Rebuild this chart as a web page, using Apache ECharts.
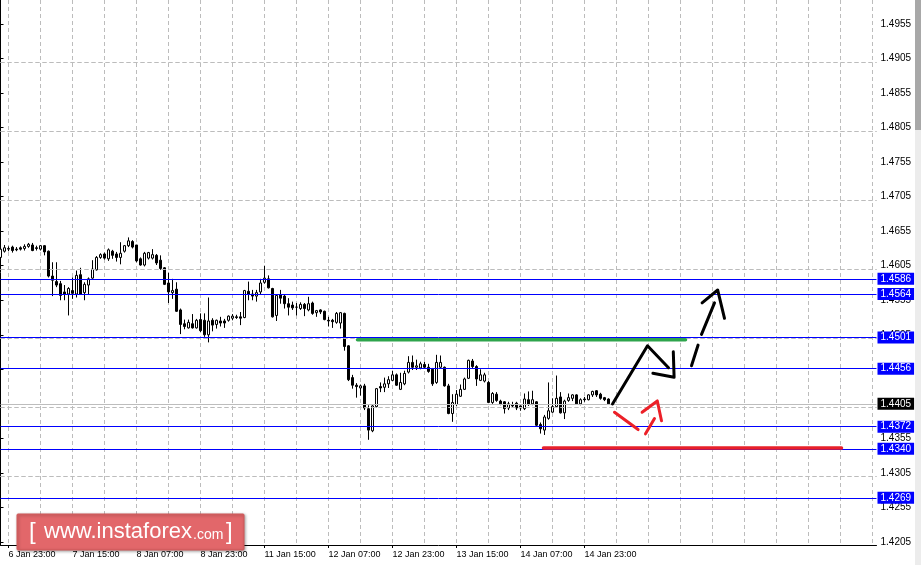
<!DOCTYPE html>
<html><head><meta charset="utf-8">
<script src="https://cdn.jsdelivr.net/npm/echarts@6/dist/echarts.min.js"></script>
<style>html,body{margin:0;padding:0;background:#fff}#c{width:921px;height:565px}</style>
</head><body><div id="c"></div>
<script>
// ---- data (prices in points: 14617 = 1.4617) ----
const timeLabels = ['6 Jan 23:00','7 Jan 15:00','8 Jan 07:00','8 Jan 23:00','11 Jan 15:00','12 Jan 07:00','12 Jan 23:00','13 Jan 15:00','14 Jan 07:00','14 Jan 23:00'];
const priceTicks = [1.4205,1.4255,1.4305,1.4355,1.4405,1.4455,1.4505,1.4555,1.4605,1.4655,1.4705,1.4755,1.4805,1.4855,1.4905,1.4955];
// [open, close, low, high]
const ohlc = [
[14617,14629,14615,14632],[14626,14631,14624,14635],[14629,14630,14626,14633],[14632,14627,14624,14634],
[14629,14628,14626,14632],[14631,14629,14627,14633],[14630,14633,14627,14636],[14633,14636,14631,14638],
[14635,14627,14626,14638],[14631,14630,14627,14634],[14629,14634,14627,14635],[14634,14625,14620,14635],
[14626,14590,14588,14627],[14590,14584,14561,14610],[14582,14577,14574,14610],[14579,14562,14555,14583],
[14567,14564,14555,14577],[14564,14572,14533,14574],[14569,14565,14557,14588],[14564,14591,14559,14598],
[14592,14564,14563,14602],[14566,14578,14555,14581],[14577,14586,14564,14588],[14587,14600,14586,14613],
[14599,14617,14598,14619],[14617,14621,14615,14623],[14622,14616,14614,14624],[14615,14628,14612,14630],
[14626,14620,14615,14628],[14622,14617,14611,14625],[14617,14623,14607,14639],[14626,14634,14624,14635],
[14634,14641,14632,14646],[14640,14632,14630,14642],[14635,14612,14610,14635],[14615,14606,14605,14617],
[14606,14623,14604,14625],[14616,14624,14614,14625],[14616,14621,14614,14629],[14620,14609,14606,14622],
[14613,14601,14599,14620],[14602,14578,14577,14603],[14580,14567,14551,14595],[14566,14569,14557,14586],
[14571,14539,14538,14581],[14541,14520,14506,14543],[14521,14517,14513,14527],[14515,14523,14514,14527],
[14521,14515,14514,14535],[14515,14526,14514,14528],[14527,14511,14509,14536],[14526,14505,14502,14536],
[14505,14525,14494,14559],[14526,14519,14510,14529],[14520,14526,14514,14527],[14525,14522,14517,14531],
[14525,14522,14515,14528],[14526,14532,14524,14533],[14529,14532,14526,14535],[14531,14530,14528,14534],
[14531,14529,14519,14538],[14530,14569,14529,14570],[14568,14564,14555,14582],[14564,14561,14555,14570],
[14561,14566,14553,14570],[14567,14580,14564,14586],[14581,14587,14579,14605],[14586,14573,14572,14591],
[14572,14531,14530,14573],[14533,14562,14525,14564],[14563,14558,14550,14570],[14561,14550,14543,14563],
[14550,14545,14533,14558],[14548,14544,14541,14553],[14545,14545,14533,14551],[14543,14549,14541,14552],
[14549,14543,14532,14551],[14541,14550,14539,14560],[14551,14536,14534,14553],[14537,14540,14531,14541],
[14541,14538,14535,14542],[14539,14527,14526,14540],[14526,14525,14517,14531],[14526,14524,14515,14528],
[14523,14536,14521,14538],[14522,14537,14514,14538],[14536,14488,14482,14537],[14489,14440,14438,14490],
[14443,14432,14427,14447],[14432,14430,14414,14435],[14428,14431,14417,14433],[14431,14399,14396,14434],
[14398,14367,14353,14403],[14366,14402,14364,14404],[14401,14427,14400,14428],[14430,14428,14422,14436],
[14429,14434,14422,14443],[14434,14440,14428,14445],[14439,14447,14438,14453],[14447,14432,14431,14449],
[14426,14436,14425,14450],[14434,14449,14432,14453],[14451,14465,14449,14474],[14465,14458,14454,14475],
[14458,14460,14454,14469],[14457,14463,14455,14466],[14462,14458,14456,14466],[14458,14452,14450,14463],
[14455,14434,14431,14457],[14436,14465,14434,14476],[14458,14465,14457,14475],[14458,14431,14430,14459],
[14431,14391,14390,14434],[14391,14407,14379,14419],[14404,14419,14402,14425],[14416,14426,14415,14433],
[14426,14441,14425,14443],[14442,14468,14441,14469],[14467,14459,14457,14470],[14459,14441,14431,14461],
[14439,14447,14438,14455],[14438,14447,14436,14450],[14436,14407,14406,14438],[14407,14420,14405,14422],
[14419,14410,14408,14422],[14409,14405,14403,14411],[14408,14398,14391,14409],[14399,14405,14396,14408],
[14403,14402,14399,14408],[14406,14399,14396,14408],[14402,14399,14395,14403],[14398,14412,14396,14420],
[14411,14404,14402,14423],[14405,14411,14403,14424],[14408,14374,14373,14409],[14375,14369,14362,14378],
[14367,14386,14360,14389],[14384,14395,14382,14436],[14393,14401,14392,14413],[14401,14413,14399,14446],
[14415,14392,14391,14422],[14392,14409,14383,14411],[14410,14414,14408,14420],[14413,14418,14409,14419],
[14418,14405,14404,14419],[14405,14411,14403,14413],[14412,14411,14408,14415],[14411,14418,14410,14419],
[14418,14423,14415,14424],[14424,14418,14415,14425],[14419,14413,14411,14421],[14414,14411,14409,14415],
[14412,14405,14404,14413]
];
const levels = [1.4586, 1.4564, 1.4501, 1.4456, 1.4372, 1.4340, 1.4269];
const lastPrice = 1.4405;
const slotCount = 220;            // bars incl. empty space on the right
const firstLabelBar = 2, labelStep = 16, gridStep = 8;
// annotations: [bar index, price]
const resistanceSeg = [[89.25, 1.44979], [171.25, 1.44979]];
const supportSeg = [[135.75, 1.43411], [210.25, 1.43411]];
const bullPath = [[153, 1.44048], [161.75, 1.44892], [167, 1.44574]];
const bullHead = [[168.2, 1.44804], [168.4, 1.44435], [163.1, 1.44493]];
const bullDash1 = [[172.75, 1.44602], [174.4, 1.44901]];
const bullDash2 = [[175.25, 1.45055], [178.5, 1.45513]];
const bullHead2 = [[175.4, 1.45513], [179.3, 1.45698], [181, 1.45289]];
const bearDash1 = [[153.5, 1.43929], [159.4, 1.43678]];
const bearDash2 = [[161.25, 1.43616], [163.5, 1.43837]];
const bearHead = [[160.4, 1.43928], [164.2, 1.44092], [165.25, 1.43806]];

// ---- chart ----
const FONT = 'Liberation Sans';
const cats = Array.from({length: slotCount}, (_, i) => 'b' + i);
const isLabelBar = i => i >= firstLabelBar && (i - firstLabelBar) % labelStep === 0 && (i - firstLabelBar) / labelStep < timeLabels.length;
const candleData = ohlc.map(r => r.map(v => v / 10000));

const chart = echarts.init(document.getElementById('c'), null, {renderer: 'canvas'});
const lvlLabel = (bg) => ({
  show: true, position: 'end', distance: 1, color: '#fff', backgroundColor: bg,
  fontFamily: FONT, fontSize: 10, lineHeight: 11, padding: [1, 3, 0, 3],
  formatter: p => p.value.toFixed(4)
});
const markData = levels.map(v => ({yAxis: v, lineStyle: {color: '#0000ff', width: 1, type: 'solid'}, label: lvlLabel('#0000ff')}));
markData.push({yAxis: lastPrice, lineStyle: {color: '#bdbdbd', width: 1, type: 'solid'}, label: lvlLabel('#000000')});

const lineSeries = (coordsList, color, width) => ({
  type: 'lines', coordinateSystem: 'cartesian2d', xAxisIndex: 1, yAxisIndex: 0,
  polyline: true, silent: true, z: 10,
  lineStyle: {color: color, width: width, opacity: 1, cap: 'round', join: 'round'},
  data: coordsList.map(c => ({coords: c}))
});

chart.setOption({
  animation: false,
  backgroundColor: '#fff',
  grid: {left: 0.5, right: 44.5, top: 0, bottom: 20, containLabel: false},
  xAxis: [{
    type: 'category', data: cats, boundaryGap: false,
    axisLine: {show: true, lineStyle: {color: '#000', width: 1}},
    axisTick: {show: true, length: 3, lineStyle: {color: '#000'}, interval: (i) => isLabelBar(i)},
    axisLabel: {show: true, interval: (i) => isLabelBar(i), align: 'left', margin: 5,
      color: '#000', fontFamily: FONT, fontSize: 9,
      formatter: (v, i) => timeLabels[(i - firstLabelBar) / labelStep] || ''},
    splitLine: {show: true, interval: (i) => i >= firstLabelBar && (i - firstLabelBar) % gridStep === 0,
      lineStyle: {color: '#bcbcbc', type: [4, 3], width: 1}}
  }, {
    type: 'value', min: 0, max: slotCount - 1, show: false
  }],
  yAxis: [{
    type: 'value', position: 'right', min: 1.420066, max: 1.49897, scale: true,
    axisLine: {show: true, lineStyle: {color: '#000', width: 1}},
    axisTick: {show: true, length: 3, customValues: priceTicks, lineStyle: {color: '#000'}},
    axisLabel: {show: true, customValues: priceTicks, margin: 4, color: '#000', fontFamily: FONT, fontSize: 10,
      formatter: v => v.toFixed(4), showMinLabel: true, showMaxLabel: true},
    splitLine: {show: false}
  }],
  series: [{
    type: 'line', xAxisIndex: 1, yAxisIndex: 0, data: [], z: 1, silent: true,
    markLine: {symbol: 'none', silent: true, animation: false, label: {show: false},
      data: priceTicks.map(v => ({yAxis: v, lineStyle: {color: '#bcbcbc', width: 1, type: [4, 3]}}))}
  }, {
    type: 'candlestick', xAxisIndex: 0, yAxisIndex: 0, data: candleData, barWidth: 3, clip: true, z: 3,
    itemStyle: {color: '#ffffff', color0: '#000000', borderColor: '#000000', borderColor0: '#000000', borderWidth: 1},
    markLine: {symbol: 'none', silent: true, animation: false, precision: 4, data: markData}
  },
    lineSeries([resistanceSeg], '#2ea44c', 3.5),
    lineSeries([supportSeg], '#e8202a', 3.5),
    lineSeries([bullPath, bullHead, bullDash1, bullDash2, bullHead2], '#000000', 3),
    lineSeries([bearDash1, bearDash2, bearHead], '#ec2028', 3)
  ],
  graphic: [
    {type: 'rect', left: 915, top: 0, shape: {width: 6, height: 565}, style: {fill: '#ececec'}, silent: true},
    {type: 'rect', left: 915, top: 0, shape: {width: 6, height: 130}, style: {fill: '#a8a8a8'}, silent: true},
    {type: 'rect', z: 100, shape: {x: 17, y: 514, width: 227, height: 36, r: 1},
      style: {fill: '#e2676a', stroke: '#d05858', lineWidth: 1, shadowBlur: 3, shadowColor: 'rgba(0,0,0,0.35)', shadowOffsetX: 1, shadowOffsetY: 1}},
    {type: 'text', z: 101, style: {text: '[', x: 29, y: 532, fill: '#fff', font: '24px ' + FONT, verticalAlign: 'middle'}},
    {type: 'text', z: 101, style: {text: 'www.instaforex', x: 44, y: 532, fill: '#fff', font: '22px ' + FONT, verticalAlign: 'middle'}},
    {type: 'text', z: 101, style: {text: '.com', x: 193, y: 535, fill: '#fff', font: '14px ' + FONT, verticalAlign: 'middle'}},
    {type: 'text', z: 101, style: {text: ']', x: 226, y: 532, fill: '#fff', font: '24px ' + FONT, verticalAlign: 'middle'}}
  ]
});
</script>
</body></html>
